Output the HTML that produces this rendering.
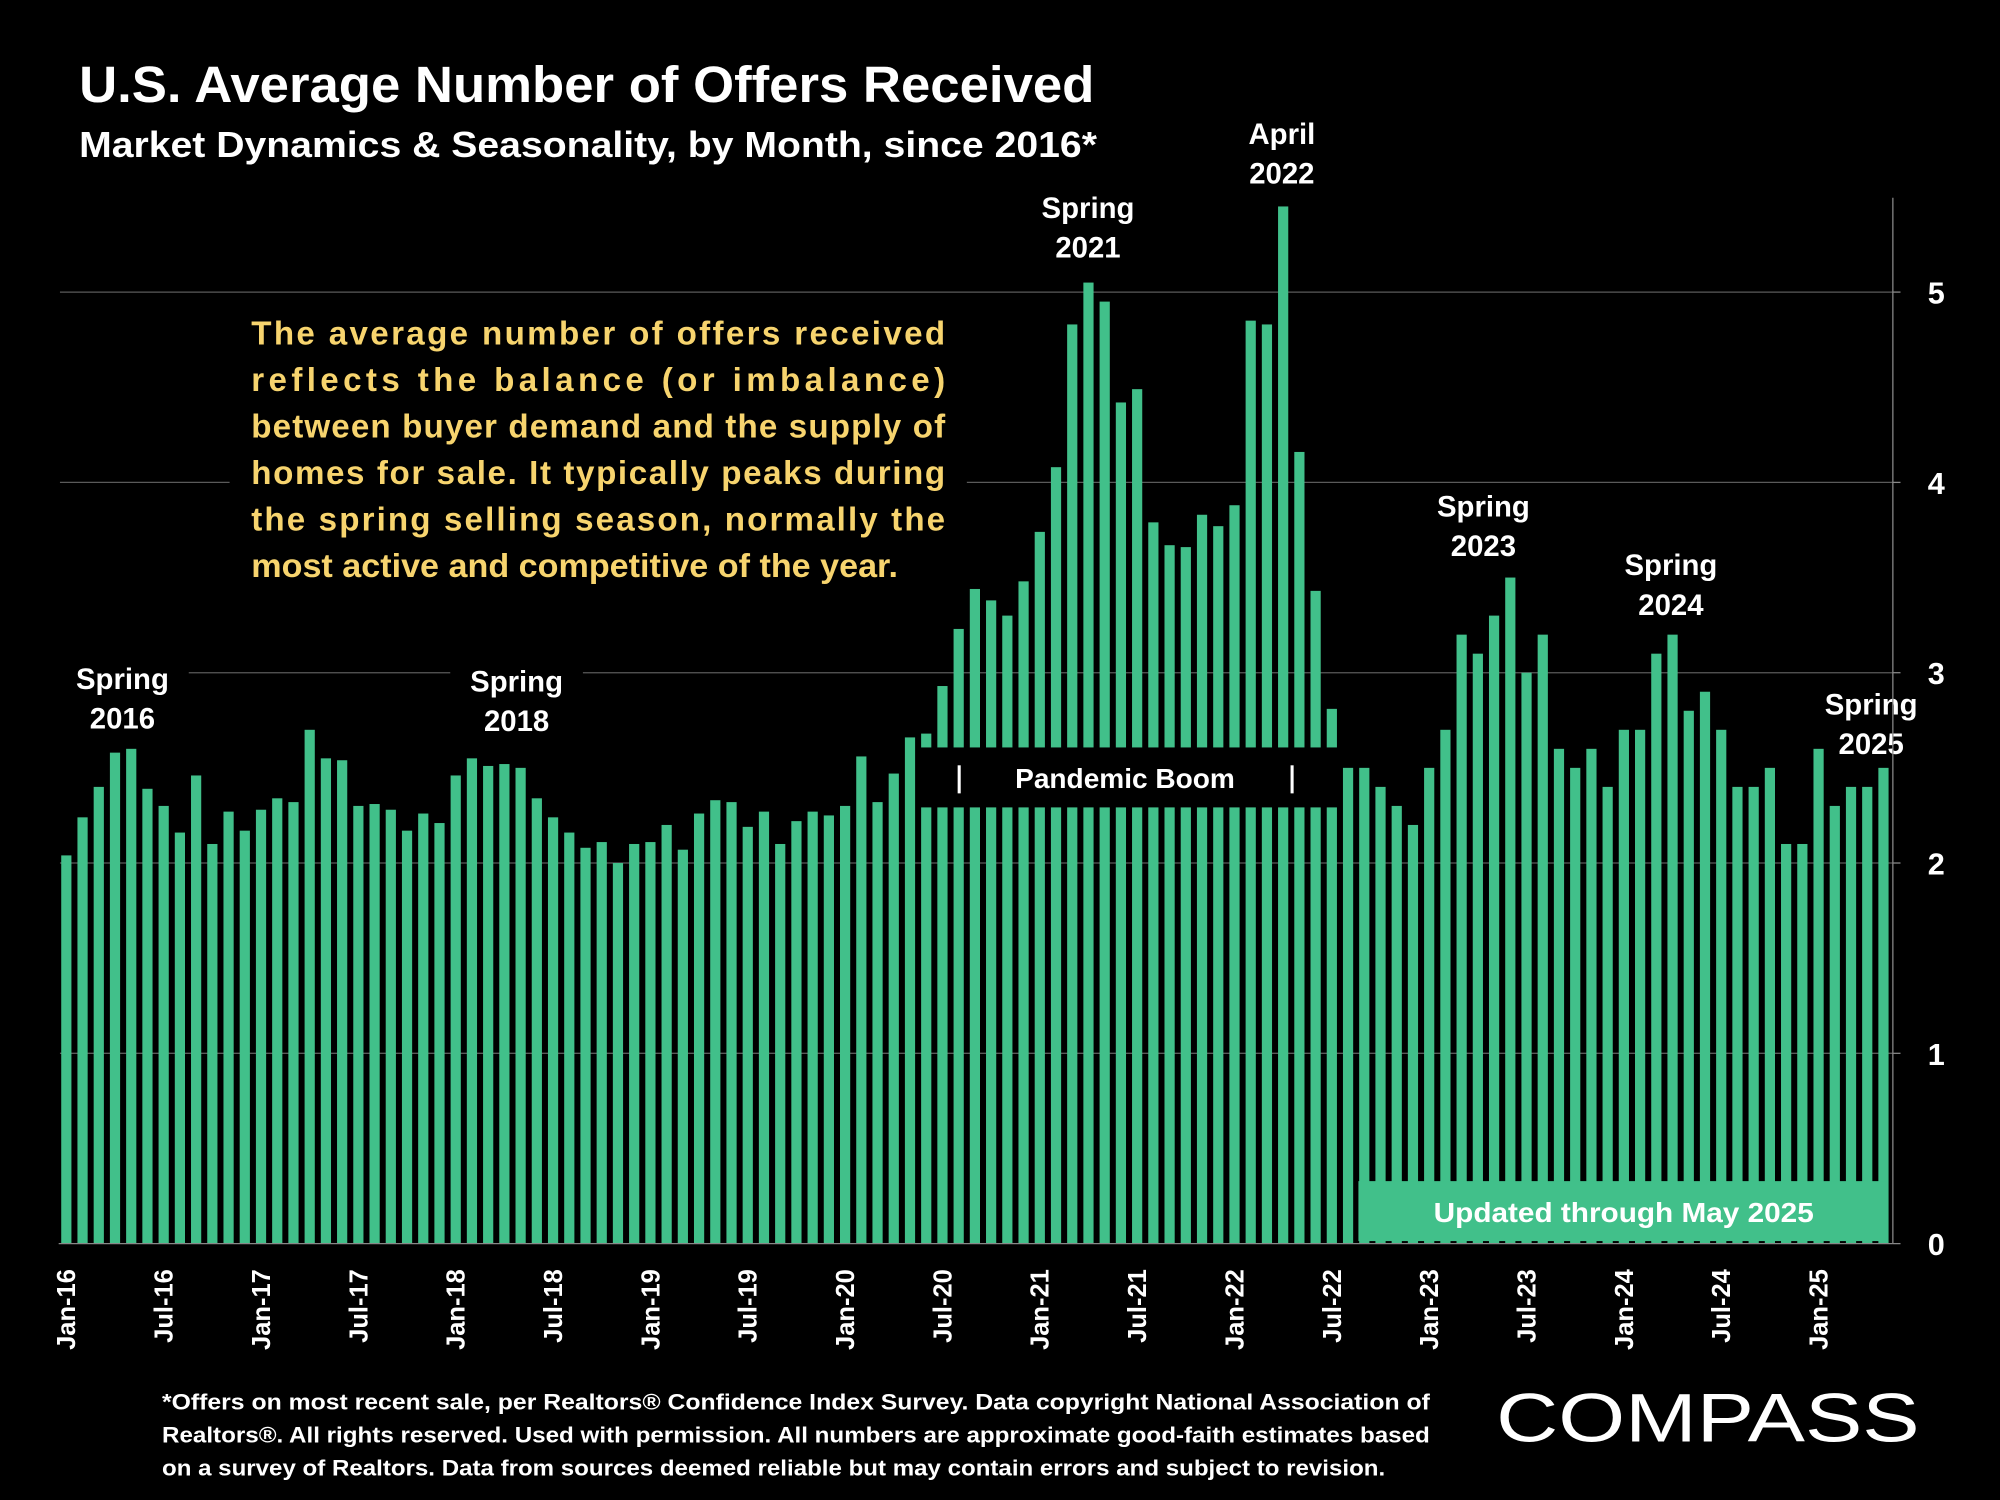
<!DOCTYPE html>
<html><head><meta charset="utf-8"><style>
html,body{margin:0;padding:0;background:#000;}
svg{display:block;}
text{font-family:"Liberation Sans",sans-serif;}
</style></head><body>
<svg id="chart" xmlns="http://www.w3.org/2000/svg" width="2000" height="1500" viewBox="0 0 1568 1176">
<rect width="1568" height="1176" fill="#000"/>
<g id="grid"></g>
<g id="bars"></g>
<g id="overlays"></g>
<g id="axis"></g>
<g id="texts">
<text x="62" y="80" font-size="40" font-weight="bold" fill="#fff" textLength="796" lengthAdjust="spacingAndGlyphs">U.S. Average Number of Offers Received</text>
<text x="62" y="123" font-size="28" font-weight="bold" fill="#fff" textLength="798" lengthAdjust="spacingAndGlyphs">Market Dynamics &amp; Seasonality, by Month, since 2016*</text>
<text x="1173" y="1130" font-size="54" fill="#fff" textLength="332" lengthAdjust="spacingAndGlyphs">COMPASS</text>
</g>
</svg>
<script>
const months = ["Jan","Feb","Mar","Apr","May","Jun","Jul","Aug","Sep","Oct","Nov","Dec"];
const startYear = 2016;
const offers = [
2.04,2.24,2.40,2.58,2.60,2.39,2.30,2.16,2.46,2.10,2.27,2.17,
2.28,2.34,2.32,2.70,2.55,2.54,2.30,2.31,2.28,2.17,2.26,2.21,
2.46,2.55,2.51,2.52,2.50,2.34,2.24,2.16,2.08,2.11,2.00,2.10,
2.11,2.20,2.07,2.26,2.33,2.32,2.19,2.27,2.10,2.22,2.27,2.25,
2.30,2.56,2.32,2.47,2.66,2.68,2.93,3.23,3.44,3.38,3.30,3.48,
3.74,4.08,4.83,5.05,4.95,4.42,4.49,3.79,3.67,3.66,3.83,3.77,
3.88,4.85,4.83,5.45,4.16,3.43,2.81,2.50,2.50,2.40,2.30,2.20,
2.50,2.70,3.20,3.10,3.30,3.50,3.00,3.20,2.60,2.50,2.60,2.40,
2.70,2.70,3.10,3.20,2.80,2.90,2.70,2.40,2.40,2.50,2.10,2.10,
2.60,2.30,2.40,2.40,2.50];
const yTicks = [0,1,2,3,4,5];
const annotations = [
 {l1:"Spring",l2:"2016",cx:96,y:540,bg:true},
 {l1:"Spring",l2:"2018",cx:405,y:542,bg:true},
 {l1:"Spring",l2:"2021",cx:853,y:171,bg:false},
 {l1:"April",l2:"2022",cx:1005,y:113,bg:false},
 {l1:"Spring",l2:"2023",cx:1163,y:405,bg:false},
 {l1:"Spring",l2:"2024",cx:1310,y:451,bg:false},
 {l1:"Spring",l2:"2025",cx:1467,y:560,bg:true}
];
const NS="http://www.w3.org/2000/svg";
const X0=52, DX=12.72, BASE=975, UNIT=149.2, AXX=1484, BW=8;
const xs=i=>X0+i*DX;
const ys=v=>BASE-v*UNIT;
function mk(tag,attrs,parent,txt){const e=document.createElementNS(NS,tag);for(const k in attrs)e.setAttribute(k,attrs[k]);if(txt!==undefined)e.textContent=txt;parent.appendChild(e);return e;}
const grid=document.getElementById('grid'),bars=document.getElementById('bars'),ov=document.getElementById('overlays'),ax=document.getElementById('axis'),tx=document.getElementById('texts');
yTicks.forEach(t=>{
 if(t>0){const g=mk('line',{x1:47,x2:AXX,y1:ys(t),y2:ys(t),stroke:'#5a5a5a','stroke-width':1},grid);
 
 }
 const tk=mk('line',{x1:AXX,x2:AXX+6,y1:ys(t),y2:ys(t),stroke:'#888','stroke-width':1},ax);
 
 
 const lb=mk('text',{x:1518,y:ys(t)+9,'font-size':24,'font-weight':'bold',fill:'#fff','text-anchor':'middle'},ax,String(t));
 
 
});
const axl=mk('line',{x1:AXX,x2:AXX,y1:155,y2:BASE,stroke:'#888','stroke-width':1},ax);


const bl=mk('line',{x1:46,x2:AXX,y1:BASE,y2:BASE,stroke:'#888','stroke-width':1},ax);


annotations.forEach(a=>{
 if(!a.bg) return;
 const bg=mk('rect',{x:a.cx-52,y:a.y-26,width:104,height:62,fill:'#000'},grid);
 
 
});
offers.forEach((v,i)=>{
 const r=mk('rect',{x:xs(i)-BW/2,y:ys(v),width:BW,height:v*UNIT,fill:'#41c08a'},bars);
 
 
 if(i%6===0){
  const lab=months[i%12]+'-'+String((startYear+Math.floor(i/12))%100).padStart(2,'0');
  const x=xs(i)+7;
  const t=mk('text',{x:x,y:995,'font-size':20,'font-weight':'bold',fill:'#fff','text-anchor':'end',transform:'rotate(-90 '+x+' 995)'},ax,lab);
  
  
 }
});
const pbg=mk('rect',{x:180,y:240,width:578,height:222,fill:'#000'},ov);


const para=["The average number of offers received","reflects the balance (or imbalance)","between buyer demand and the supply of","homes for sale. It typically peaks during","the spring selling season, normally the","most active and competitive of the year."];
para.forEach((l,k)=>{
 const a={x:197,y:270+k*36.5,'font-size':26,'font-weight':'bold',fill:'#f7d46e'};
 if(k<5){a.textLength=544;a.lengthAdjust='spacing';} else {a.textLength=507;a.lengthAdjust='spacingAndGlyphs';}
 const t=mk('text',a,ov,l);
 
 
});
const pb=mk('rect',{x:xs(53)-BW/2-1,y:586,width:xs(78)-xs(53)+BW+2,height:47,fill:'#000'},ov);


const pt=mk('text',{x:882,y:618,'font-size':22,'font-weight':'bold',fill:'#fff','text-anchor':'middle'},ov,'Pandemic Boom');


[752,1013].forEach(x=>{const b=mk('rect',{x:x-1.2,y:600,width:2.4,height:22,fill:'#fff'},ov);
 
 });
const ub=mk('rect',{x:1065,y:926,width:415,height:47,fill:'#41c08a'},ov);


const ut=mk('text',{x:1273,y:958,'font-size':22,'font-weight':'bold',fill:'#fff','text-anchor':'middle',textLength:298,lengthAdjust:'spacingAndGlyphs'},ov,'Updated through May 2025');


annotations.forEach(a=>{
 const t1=mk('text',{x:a.cx,y:a.y,'font-size':23,'font-weight':'bold',fill:'#fff','text-anchor':'middle'},ov,a.l1);
 
 
 const t2=mk('text',{x:a.cx,y:a.y+31,'font-size':23,'font-weight':'bold',fill:'#fff','text-anchor':'middle'},ov,a.l2);
 
 
});
const foot=["*Offers on most recent sale, per Realtors\u00ae Confidence Index Survey. Data copyright National Association of","Realtors\u00ae. All rights reserved. Used with permission. All numbers are approximate good-faith estimates based","on a survey of Realtors. Data from sources deemed reliable but may contain errors and subject to revision."];
const fw=[994,994,959];
foot.forEach((l,k)=>{
 const t=mk('text',{x:127,y:1105+k*26,'font-size':17.5,'font-weight':'bold',fill:'#fff',textLength:fw[k],lengthAdjust:'spacingAndGlyphs'},tx,l);
 
 
});
</script>
</body></html>
